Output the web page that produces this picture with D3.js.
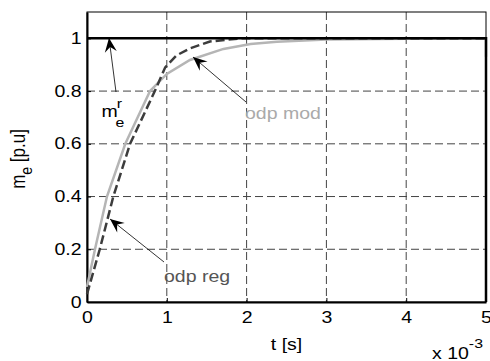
<!DOCTYPE html>
<html>
<head>
<meta charset="utf-8">
<script src="https://cdn.jsdelivr.net/npm/d3@7"></script>
<style>
  body { margin: 0; background: #fff; }
  text { font-family: "Liberation Sans", Arial, sans-serif; }
</style>
</head>
<body>
<div id="chart"></div>
<script>
// time axis in units of 1e-3 s
const xTicks = [0, 1, 2, 3, 4, 5];
const yTicks = [0, 0.2, 0.4, 0.6, 0.8, 1];

// reference torque m_e^r
const refT = [0, 5, 5];
const refY = [1, 1, 0];

// odp mod (gray solid)
const modT = [0, 0.1, 0.25, 0.48, 0.79, 1.0, 1.29, 1.71, 2.05, 2.38, 3.0, 4.0, 5.0, 5.0];
const modY = [0.057, 0.2, 0.4, 0.6, 0.8, 0.865, 0.918, 0.96, 0.979, 0.987, 0.996, 0.999, 1.0, 0.93];

// odp reg (dark dashed)
const regT = [0, 0.16, 0.33, 0.54, 0.85, 0.98, 1.12, 1.29, 1.54, 1.92, 5.0];
const regY = [0.03, 0.2, 0.4, 0.6, 0.8, 0.89, 0.935, 0.962, 0.988, 1.0, 1.0];

const W = 490, H = 361;
const margin = {top: 12, right: 4, bottom: 59, left: 87};
const w = W - margin.left - margin.right;
const h = H - margin.top - margin.bottom;
const sx = 1.22;   // the picture's text is a bit wider than tall

const svg = d3.select("#chart").append("svg")
    .attr("width", W)
    .attr("height", H);

const g = svg.append("g")
    .attr("transform", "translate(" + margin.left + "," + margin.top + ")");

let x = d3.scaleLinear().domain([0, 5]).range([0, w]);
let y = d3.scaleLinear().domain([0, 1.1]).range([h, 0]);

// grid
g.append("g").selectAll("line").data(xTicks.slice(1, -1)).enter()
    .append("line")
    .attr("x1", d => x(d)).attr("x2", d => x(d))
    .attr("y1", 0).attr("y2", h)
    .style("stroke", "#444").style("stroke-width", 1)
    .style("stroke-dasharray", "8,4");
g.append("g").selectAll("line").data(yTicks.slice(1)).enter()
    .append("line")
    .attr("x1", 0).attr("x2", w)
    .attr("y1", d => y(d)).attr("y2", d => y(d))
    .style("stroke", "#444").style("stroke-width", 1)
    .style("stroke-dasharray", "8,4");

// box
g.append("rect")
    .attr("x", 0).attr("y", 0).attr("width", w).attr("height", h)
    .style("fill", "none").style("stroke", "#000").style("stroke-width", 1);

// axes
let xAxis = d3.axisBottom(x).tickValues(xTicks).tickFormat(d => String(d))
    .tickSize(-4).tickPadding(10).tickSizeOuter(0);
let yAxis = d3.axisLeft(y).tickValues(yTicks).tickFormat(d => String(d))
    .tickSize(-4).tickPadding(6).tickSizeOuter(0);

g.append("g").attr("transform", "translate(0," + h + ")").call(xAxis)
    .call(a => a.select(".domain").style("stroke-width", 2))
    .selectAll("text").style("font-size", "16px").style("fill", "#000")
    .style("font-family", "Liberation Sans, Arial, sans-serif")
    .attr("transform", "scale(" + sx + ",1)");
g.append("g").call(yAxis)
    .call(a => a.select(".domain").style("stroke-width", 2))
    .selectAll("text").style("font-size", "16px").style("fill", "#000")
    .style("font-family", "Liberation Sans, Arial, sans-serif")
    .attr("x", -5.5 / sx)
    .attr("transform", "scale(" + sx + ",1)");

// curves
let line = d3.line().x(d => x(d[0])).y(d => y(d[1]));

g.append("path").datum(modT.map((t, i) => [t, modY[i]]))
    .attr("d", line)
    .style("fill", "none").style("stroke", "#b5b5b5").style("stroke-width", 2.5);

g.append("path").datum(regT.map((t, i) => [t, regY[i]]))
    .attr("d", line)
    .style("fill", "none").style("stroke", "#3c3c3c").style("stroke-width", 2.5)
    .style("stroke-dasharray", "9,4");

g.append("path").datum(refT.map((t, i) => [t, refY[i]]))
    .attr("d", line)
    .style("fill", "none").style("stroke", "#000").style("stroke-width", 2.5);

// annotation arrows (pixel positions in svg coords)
function arrow(x1, y1, x2, y2) {
    svg.append("line")
        .attr("x1", x1).attr("y1", y1).attr("x2", x2).attr("y2", y2)
        .style("stroke", "#000").style("stroke-width", 0.8);
    let ang = Math.atan2(y2 - y1, x2 - x1);
    let L = 14, Wd = 6, back = 9;
    let ca = Math.cos(ang), sa = Math.sin(ang);
    let p = [
        [x2, y2],
        [x2 - L * ca + Wd * sa, y2 - L * sa - Wd * ca],
        [x2 - back * ca, y2 - back * sa],
        [x2 - L * ca - Wd * sa, y2 - L * sa + Wd * ca]
    ];
    svg.append("path").attr("d", "M" + p.join("L") + "Z").style("fill", "#000");
}
arrow(116, 92, 109, 38);
arrow(246, 102, 193, 57);
arrow(164, 262, 110, 219);

// stretched text helper
function label(px, py, size) {
    return svg.append("text")
        .attr("transform", "translate(" + px + "," + py + ") scale(" + sx + ",1)")
        .style("font-size", size + "px");
}

let mr = label(101.5, 117, 16);
mr.append("tspan").text("m");
mr.append("tspan").attr("x", 12.5).attr("y", -9).style("font-size", "13px").text("r");
mr.append("tspan").attr("x", 11.5).attr("y", 10).style("font-size", "13px").text("e");

label(245, 119, 16).style("fill", "#aaa").text("odp mod");
label(164, 282, 16).style("fill", "#555").text("odp reg");

label(margin.left + w / 2, 350, 16).attr("text-anchor", "middle").text("t [s]");

let ex = label(432, 359, 16);
ex.append("tspan").text("x 10");
ex.append("tspan").attr("dy", -11).style("font-size", "13px").text("-3");

let yl = svg.append("text")
    .attr("transform", "translate(25,159) scale(" + sx + ",1) rotate(-90)")
    .attr("text-anchor", "middle").style("font-size", "17px");
yl.append("tspan").text("m");
yl.append("tspan").attr("dy", 6).style("font-size", "14px").text("e");
yl.append("tspan").attr("dy", -6).text(" [p.u]");
</script>
</body>
</html>
